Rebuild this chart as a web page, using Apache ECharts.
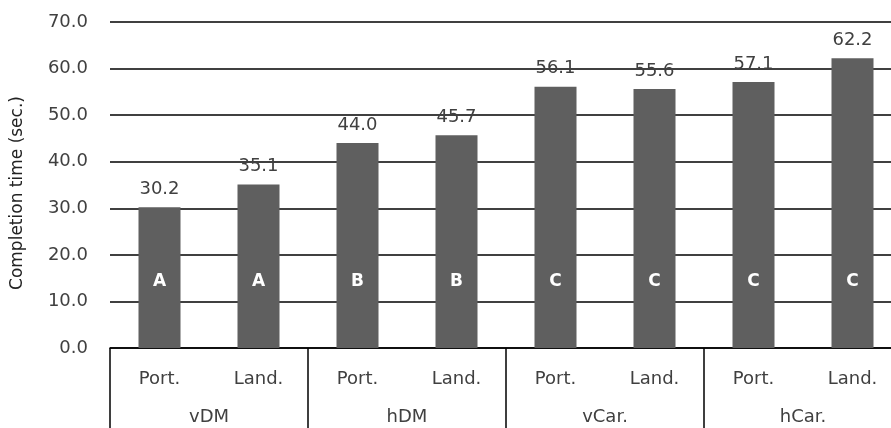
<!DOCTYPE html>
<html>
<head>
<meta charset="utf-8">
<script src="https://cdn.jsdelivr.net/npm/echarts@6/dist/echarts.min.js"></script>
<style>
  html, body { margin: 0; padding: 0; background: #fff; }
  #chart { width: 891px; height: 428px; }
</style>
</head>
<body>
<div id="chart"></div>
<script>
"use strict";
// ---- data ----
const ORIENT = ["Port.", "Land.", "Port.", "Land.", "Port.", "Land.", "Port.", "Land."];
const GROUPS = ["vDM", "hDM", "vCar.", "hCar."];
const TIMES = [30.2, 35.1, 44.0, 45.7, 56.1, 55.6, 57.1, 62.2];
const LETTERS = ["A", "A", "B", "B", "C", "C", "C", "C"];
const Y_TICKS = { min: 0, max: 70, interval: 10 };

const FONT = "'DejaVu Sans', 'Noto Sans', sans-serif";
const INK = "#404040";
const BAR = "#5f5f5f";

const chart = echarts.init(document.getElementById("chart"), null, { renderer: "canvas" });
chart.setOption({
  animation: false,
  backgroundColor: "#fff",
  textStyle: { fontFamily: FONT, color: INK },
  // plot runs past the right edge of the picture, as in the source
  grid: { left: 110, width: 792, top: 22, bottom: 80, outerBoundsMode: "none" },
  xAxis: [
    { type: "category", data: ORIENT, position: "bottom",
      axisLine: { lineStyle: { color: "#000", width: 1.5 } },
      axisTick: { show: false },
      axisLabel: { interval: 0, margin: 22, fontSize: 18, color: INK, fontFamily: FONT } },
    { type: "category", data: GROUPS, position: "bottom",
      axisLine: { show: false },
      axisTick: { show: true, interval: 0, length: 80, lineStyle: { color: "#000", width: 1.5 } },
      axisLabel: { interval: 0, margin: 60, fontSize: 18, color: INK, fontFamily: FONT } }
  ],
  yAxis: {
    type: "value", min: Y_TICKS.min, max: Y_TICKS.max, interval: Y_TICKS.interval,
    name: "Completion time (sec.)", nameLocation: "middle", nameGap: 84,
    nameTextStyle: { fontSize: 17, color: "#222", fontFamily: FONT, padding: [0, 16, 0, 0] },
    axisLine: { show: false }, axisTick: { show: false },
    axisLabel: { margin: 22, fontSize: 18, color: INK, fontFamily: FONT,
      formatter: (v) => v.toFixed(1) },
    splitLine: { lineStyle: { color: "#000", width: 1.5 } }
  },
  series: [
    { type: "bar", data: TIMES, barWidth: 42, itemStyle: { color: BAR },
      label: { show: true, position: "top", distance: 9, fontSize: 18, color: INK,
        fontFamily: FONT, formatter: (p) => p.value.toFixed(1) } },
    { type: "bar", data: TIMES, barWidth: 42, barGap: "-100%", silent: true,
      itemStyle: { color: "rgba(0,0,0,0)" },
      label: { show: true, position: "insideBottom", offset: [0, -53], fontSize: 17,
        fontWeight: "bold", color: "#fff", fontFamily: FONT,
        formatter: (p) => LETTERS[p.dataIndex] } }
  ]
});
</script>
</body>
</html>
